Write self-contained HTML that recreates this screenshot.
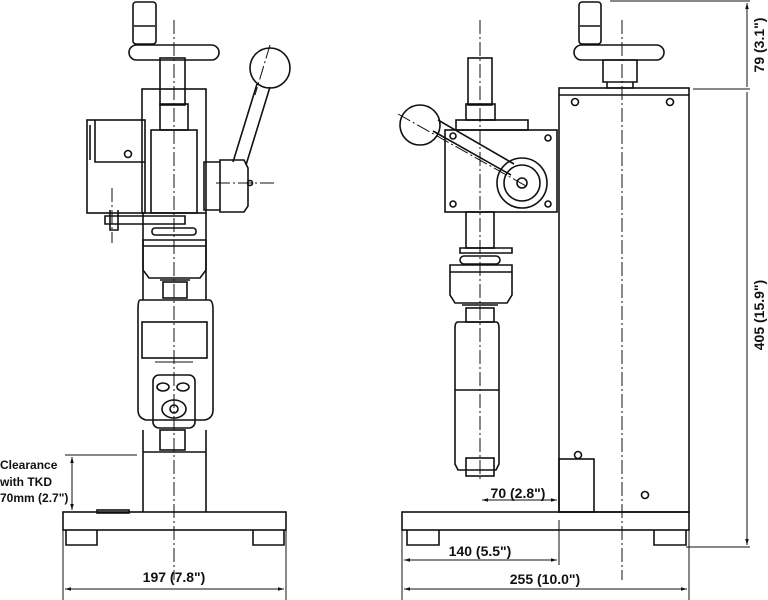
<!DOCTYPE html>
<html><head><style>html,body{margin:0;padding:0;overflow:hidden;width:768px;height:600px;background:#fff}svg{display:block}text{font-family:"Liberation Sans",sans-serif;font-weight:bold;fill:#111}</style></head><body>
<svg width="768" height="600" viewBox="0 0 768 600" xmlns="http://www.w3.org/2000/svg">
<defs><marker id="a" viewBox="0 0 10 10" refX="10" refY="5" markerWidth="6" markerHeight="6" orient="auto-start-reverse"><path d="M0,2 L10,5 L0,8z" fill="#111"/></marker></defs>
<g fill="none" stroke="#111" stroke-width="1.6">
<!-- LEFT VIEW -->
<rect x="63" y="512" width="223" height="18"/>
<path d="M66 530v15h31v-15M253 530v15h31v-15"/>
<rect x="97" y="510" width="32" height="3"/>
<path d="M143 213v87M206 213v87M143 430v82M206 430v82M143 452h63"/>
<rect x="133" y="2" width="23" height="42" rx="3"/>
<path d="M134 26h21"/>
<rect x="129" y="45" width="90" height="15" rx="7.5"/>
<rect x="160" y="58" width="25" height="47"/>
<rect x="142" y="89" width="64" height="124"/>
<rect x="160" y="104" width="28" height="26"/>
<rect x="151" y="130" width="46" height="83"/>
<rect x="87" y="120" width="58" height="93"/>
<path d="M95 120v42h50M90 125v35"/>
<circle cx="128" cy="154" r="3.5"/>
<path d="M204 162h16v48h-16zM220 160h24l4 8v38l-4 6h-24z"/>
<path d="M233 162l24-78M246 165l24-78"/>
<circle cx="270" cy="68" r="20"/>
<circle cx="250" cy="183" r="2.5"/>
<path d="M105 216h80v8h-80zM110 210v20h8v-20"/>
<rect x="152" y="228" width="44" height="7" rx="3"/>
<path d="M143 240h63v30l-6 8h-51l-6-8z"/>
<path d="M143 246h63"/>
<rect x="163" y="282" width="24" height="16"/>
<path d="M160 280h30"/>
<path d="M140 300h69q4 0 4 10v100q0 8-8 10h-59q-8-2-8-10v-100q0-10 2-10z"/>
<rect x="142" y="322" width="65" height="36"/>
<path d="M155 362h38" stroke-width="1"/>
<rect x="153" y="375" width="42" height="53" rx="6"/>
<ellipse cx="163" cy="387" rx="6" ry="4"/><ellipse cx="183" cy="387" rx="6" ry="4"/>
<ellipse cx="174" cy="409" rx="12" ry="9"/><circle cx="174" cy="409" r="4"/>
<rect x="160" y="430" width="25" height="20"/>
<!-- Clearance dim -->
<path d="M65 455h72" stroke-width="1"/>
<path d="M72 457v53" stroke-width="1" marker-start="url(#a)" marker-end="url(#a)"/>
<!-- 197 -->
<path d="M63 530v70M286 530v70" stroke-width="1"/>
<path d="M65 589h219" stroke-width="1" marker-start="url(#a)" marker-end="url(#a)"/>
<!-- RIGHT VIEW -->
<rect x="402" y="512" width="287" height="18"/>
<path d="M407 530v15h32v-15M654 530v15h32v-15"/>
<rect x="559" y="88" width="130" height="424"/>
<path d="M559 95h130"/>
<rect x="559" y="459" width="35" height="53"/>
<rect x="579" y="2" width="22" height="42" rx="3"/>
<path d="M580 26h20"/>
<rect x="574" y="45" width="90" height="15" rx="7.5"/>
<path d="M603 60h34v22h-34zM607 82h26v6h-26z"/>
<rect x="468" y="58" width="24" height="47"/>
<rect x="466" y="104" width="29" height="16"/>
<rect x="456" y="120" width="72" height="10"/>
<rect x="445" y="130" width="112" height="82"/>
<circle cx="522" cy="183" r="25"/><circle cx="522" cy="183" r="18"/><circle cx="522" cy="183" r="5"/>
<path d="M433 131l78 44M438 120l76 44"/>
<circle cx="420" cy="125" r="20"/>
<rect x="466" y="212" width="28" height="36"/>
<path d="M460 248h52v5h-52z"/>
<rect x="460" y="256" width="40" height="8" rx="4"/>
<path d="M450 265h62v30l-5 8h-52l-5-8z"/>
<path d="M450 272h62"/>
<rect x="466" y="308" width="28" height="14"/>
<path d="M462 305h36"/>
<path d="M458 322h38q3 0 3 6v136l-3 6h-38l-3-6v-136q0-6 3-6z"/>
<path d="M455 390h44"/>
<rect x="466" y="458" width="28" height="18"/>
<!-- dims right -->
<path d="M402 530v70M689 530v70M559 520v45" stroke-width="1"/>
<path d="M482 500h75" stroke-width="1" marker-start="url(#a)" marker-end="url(#a)"/>
<path d="M404 560h153" stroke-width="1" marker-start="url(#a)" marker-end="url(#a)"/>
<path d="M404 589h283" stroke-width="1" marker-start="url(#a)" marker-end="url(#a)"/>
<path d="M610 1h140M693 89h57M686 547h64" stroke-width="1"/>
<path d="M747 3v84M747 92v453" stroke-width="1" marker-start="url(#a)" marker-end="url(#a)"/>
</g>
<g fill="none" stroke="#111" stroke-width="1.6">
<circle cx="575" cy="102" r="3.5"/><circle cx="670" cy="102" r="3.5"/><circle cx="645" cy="495" r="3.5"/><circle cx="578" cy="455" r="3.5"/>
<circle cx="453" cy="136" r="3"/><circle cx="548" cy="138" r="3"/><circle cx="453" cy="204" r="3"/><circle cx="548" cy="204" r="3"/>
</g>
<g fill="none" stroke="#111" stroke-width="1" stroke-dasharray="14,3,2,3">
<path d="M174 20v560"/>
<path d="M216 183h60M270 45l-15 50M112 188v55"/>
<path d="M622 20v560M480 20v460M398 114l128 72"/>
</g>
<text x="0" y="469" font-size="12">Clearance</text>
<text x="0" y="486" font-size="12">with TKD</text>
<text x="0" y="502" font-size="12">70mm (2.7")</text>
<text x="174" y="582" font-size="14" text-anchor="middle">197 (7.8")</text>
<text x="518" y="498" font-size="14" text-anchor="middle">70 (2.8")</text>
<text x="480" y="556" font-size="14" text-anchor="middle">140 (5.5")</text>
<text x="545" y="584" font-size="14" text-anchor="middle">255 (10.0")</text>
<text transform="translate(764,45) rotate(-90)" font-size="14" text-anchor="middle">79 (3.1")</text>
<text transform="translate(764,315) rotate(-90)" font-size="14" text-anchor="middle">405 (15.9")</text>
</svg>
</body></html>
